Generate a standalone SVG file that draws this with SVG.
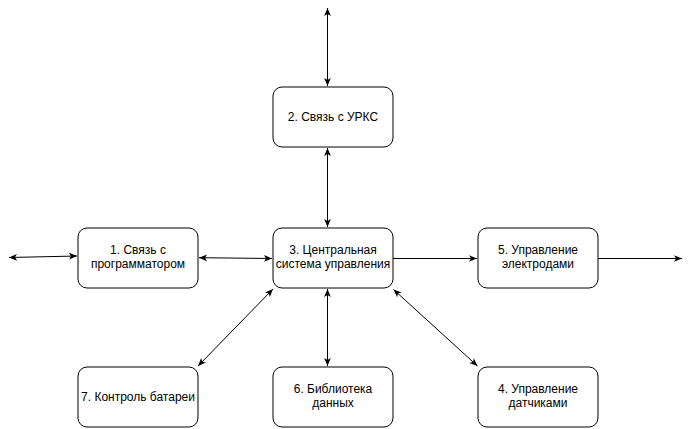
<svg xmlns="http://www.w3.org/2000/svg" width="692" height="429" viewBox="0 0 692 429">
<defs>
<style>
.box{fill:#fff;stroke:#000;stroke-width:1}
.lbl{font-family:"Liberation Sans",Arial,sans-serif;font-size:12px;fill:#000;text-anchor:middle}
.ln{stroke:#000;stroke-width:1;fill:none}
</style>
<marker id="ah" viewBox="0 0 10 10" refX="10" refY="5" markerWidth="8" markerHeight="8" markerUnits="userSpaceOnUse" orient="auto-start-reverse">
<path d="M0,0.8 L10,5 L0,9.2 L2.5,5 z" fill="#000"/>
</marker>
</defs>
<rect width="692" height="429" fill="#fff"/>
<g id="connectors">
<line class="ln" x1="9" y1="257.5" x2="77" y2="256" marker-start="url(#ah)" marker-end="url(#ah)"/>
<line class="ln" x1="199" y1="257.7" x2="272" y2="258.5" marker-start="url(#ah)" marker-end="url(#ah)"/>
<line class="ln" x1="393" y1="258.5" x2="477" y2="258.5" marker-end="url(#ah)"/>
<line class="ln" x1="598" y1="258.5" x2="682" y2="258.5" marker-end="url(#ah)"/>
<line class="ln" x1="327.5" y1="8" x2="327.5" y2="86" marker-start="url(#ah)" marker-end="url(#ah)"/>
<line class="ln" x1="327.5" y1="148" x2="327.5" y2="227" marker-start="url(#ah)" marker-end="url(#ah)"/>
<line class="ln" x1="327.5" y1="289" x2="327.5" y2="366" marker-start="url(#ah)" marker-end="url(#ah)"/>
<line class="ln" x1="273" y1="289" x2="198" y2="366" marker-start="url(#ah)" marker-end="url(#ah)"/>
<line class="ln" x1="393.5" y1="289.5" x2="477.5" y2="366" marker-start="url(#ah)" marker-end="url(#ah)"/>
</g>
<g id="node1">
<rect class="box" x="78" y="228" width="120" height="60" rx="9"/>
<text class="lbl" x="138" y="254">1. Связь с</text>
<text class="lbl" x="138" y="268">программатором</text>
</g>
<g id="node2">
<rect class="box" x="273" y="87" width="120" height="60" rx="9"/>
<text class="lbl" x="333" y="121">2. Связь с УРКС</text>
</g>
<g id="node3">
<rect class="box" x="273" y="228" width="120" height="60" rx="9"/>
<text class="lbl" x="333" y="254">3. Центральная</text>
<text class="lbl" x="333" y="268">система управления</text>
</g>
<g id="node5">
<rect class="box" x="478" y="228" width="120" height="60" rx="9"/>
<text class="lbl" x="538" y="254">5. Управление</text>
<text class="lbl" x="538" y="268">электродами</text>
</g>
<g id="node7">
<rect class="box" x="78" y="367" width="120" height="60" rx="9"/>
<text class="lbl" x="138" y="401">7. Контроль батареи</text>
</g>
<g id="node6">
<rect class="box" x="273" y="367" width="120" height="60" rx="9"/>
<text class="lbl" x="333" y="393">6. Библиотека</text>
<text class="lbl" x="333" y="407">данных</text>
</g>
<g id="node4">
<rect class="box" x="478" y="367" width="120" height="60" rx="9"/>
<text class="lbl" x="538" y="393">4. Управление</text>
<text class="lbl" x="538" y="407">датчиками</text>
</g>
</svg>
